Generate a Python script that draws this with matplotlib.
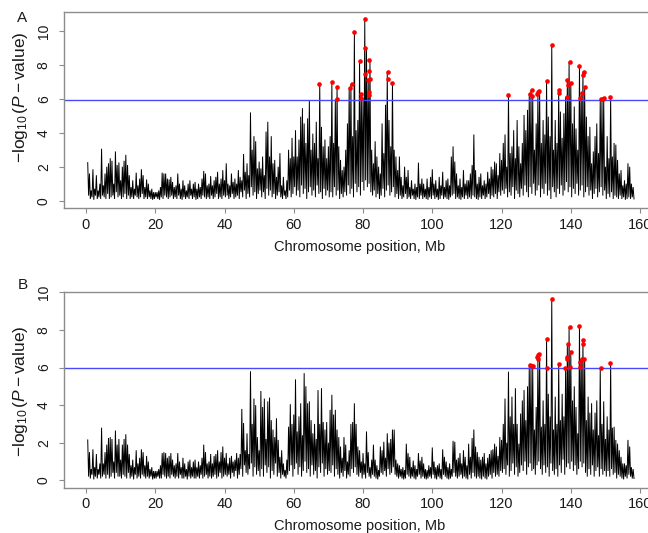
import numpy as np
import matplotlib
matplotlib.use("Agg")
import matplotlib.pyplot as plt

# Scan of -log10(P) along one chromosome, two models (A, B).
# Signal every 0.5 Mb: local top value (peak_*)
# followed by the low point just after it (dip_*).
start_mb = 0.5
step_mb = 0.5

peak_a = [
    2.24, 1.6, 0.6, 1.85, 0.7, 1.5, 0.6, 1.0, 3.06, 0.9, 1.6, 2.0, 2.2, 2.5, 2.35, 1.0, 2.9, 2.1, 2.25, 1.2,
    2.0, 2.35, 2.7, 2.1, 1.5, 0.8, 1.2, 0.7, 1.65, 0.9, 1.3, 1.85, 1.5, 0.8, 1.25, 1.0, 0.6, 0.7, 0.5, 0.5,
    0.5, 0.6, 0.8, 1.65, 1.6, 1.6, 1.3, 1.25, 1.4, 1.1, 0.8, 0.9, 1.6, 1.0, 0.7, 1.2, 0.9, 0.6, 1.0, 1.2,
    0.7, 1.0, 1.1, 0.7, 1.0, 0.8, 1.3, 1.75, 1.6, 0.9, 1.0, 1.45, 0.9, 1.2, 1.4, 1.7, 1.0, 1.3, 1.8, 1.2,
    2.2, 1.0, 0.9, 1.6, 1.1, 1.3, 1.0, 1.8, 1.4, 1.2, 2.75, 1.7, 2.2, 1.5, 5.2, 3.0, 3.8, 3.5, 1.9, 2.3,
    1.9, 2.6, 1.5, 4.07, 4.65, 2.6, 3.8, 2.2, 2.4, 1.4, 2.0, 2.8, 0.9, 1.4, 0.6, 1.2, 3.0, 2.5, 3.7, 2.6,
    4.15, 2.6, 3.6, 4.95, 5.45, 4.55, 3.4, 4.85, 5.9, 3.0, 3.95, 3.4, 4.65, 2.5, 6.88, 4.35, 3.2, 3.6, 2.5, 3.2,
    3.8, 6.98, 3.4, 5.97, 6.72, 3.2, 2.4, 1.8, 2.0, 3.0, 4.55, 6.62, 6.88, 3.8, 9.94, 4.15, 4.75, 8.23, 6.31, 6.03,
    10.71, 8.98, 7.0, 8.29, 3.0, 2.2, 3.5, 2.6, 2.0, 1.6, 4.55, 2.8, 5.65, 7.58, 4.75, 3.2, 6.96, 3.0, 2.6, 1.8,
    2.6, 1.4, 0.9, 2.0, 1.4, 1.8, 0.8, 1.2, 0.7, 1.0, 0.8, 2.24, 1.0, 1.3, 1.0, 0.7, 1.3, 0.8, 1.4, 1.85,
    1.0, 1.2, 0.7, 1.4, 0.9, 1.7, 0.8, 1.2, 1.3, 0.9, 2.6, 3.2, 2.3, 1.6, 0.9, 1.3, 0.8, 1.8, 1.0, 1.2,
    1.2, 1.6, 2.1, 3.9, 1.8, 1.0, 1.4, 1.6, 0.9, 1.2, 1.0, 1.7, 1.3, 2.0, 1.85, 2.3, 2.2, 1.5, 2.8, 2.4,
    3.4, 3.9, 2.0, 6.25, 2.8, 3.2, 4.15, 2.5, 4.75, 3.2, 2.2, 3.4, 5.05, 4.15, 5.35, 6.3, 6.52, 6.19, 3.0, 4.55,
    6.27, 6.4, 3.4, 4.75, 3.9, 7.07, 4.95, 3.8, 9.16, 3.0, 4.75, 3.4, 6.54, 5.25, 3.7, 5.15, 6.12, 7.13, 8.15, 6.95,
    4.55, 5.55, 4.25, 3.0, 7.96, 6.4, 7.6, 6.68, 4.95, 3.8, 4.35, 2.2, 2.9, 3.8, 4.55, 2.8, 5.99, 6.02, 6.05, 2.0,
    3.8, 2.5, 6.13, 2.6, 3.4, 3.3, 2.4, 1.6, 1.8, 0.9, 1.2, 1.0, 2.2, 2.0, 1.0, 0.8,
]
dip_a = [
    0.3, 0.1, 0.2, 0.05, 0.3, 0.1, 0.2, 0.1, 0.3, 0.2, 0.1, 0.4, 0.1, 0.2, 0.3, 0.1, 0.5, 0.2, 0.3, 0.1,
    0.2, 0.4, 0.1, 0.3, 0.1, 0.2, 0.1, 0.3, 0.2, 0.1, 0.2, 0.4, 0.1, 0.2, 0.1, 0.2, 0.1, 0.05, 0.1, 0.2,
    0.1, 0.05, 0.2, 0.1, 0.3, 0.2, 0.1, 0.2, 0.3, 0.1, 0.2, 0.1, 0.3, 0.1, 0.05, 0.2, 0.1, 0.2, 0.1, 0.3,
    0.1, 0.2, 0.05, 0.1, 0.2, 0.1, 0.3, 0.2, 0.1, 0.2, 0.1, 0.3, 0.1, 0.2, 0.4, 0.1, 0.2, 0.1, 0.3, 0.2,
    0.3, 0.1, 0.2, 0.4, 0.1, 0.2, 0.3, 0.1, 0.5, 0.2, 0.6, 0.1, 0.4, 0.2, 0.8, 0.3, 0.5, 0.1, 0.4, 0.6,
    0.2, 0.5, 0.1, 0.7, 0.3, 0.6, 0.2, 0.4, 0.1, 0.3, 0.5, 0.2, 0.1, 0.3, 0.1, 0.2, 0.6, 0.2, 0.4, 0.8,
    0.3, 0.6, 0.2, 0.9, 0.4, 0.7, 0.1, 0.5, 0.8, 0.3, 0.6, 0.2, 0.9, 0.4, 0.5, 0.1, 0.7, 0.3, 0.6, 0.2,
    0.5, 0.2, 0.8, 0.3, 0.6, 0.1, 0.4, 0.2, 0.5, 0.3, 0.9, 0.4, 0.7, 0.2, 1.0, 0.5, 0.8, 0.3, 1.1, 0.6,
    1.2, 0.8, 1.0, 0.5, 0.3, 0.6, 0.2, 0.4, 0.1, 0.3, 0.7, 0.2, 0.6, 0.9, 0.3, 0.5, 0.8, 0.2, 0.4, 0.1,
    0.3, 0.1, 0.2, 0.4, 0.1, 0.2, 0.1, 0.3, 0.1, 0.05, 0.2, 0.1, 0.3, 0.1, 0.2, 0.1, 0.05, 0.2, 0.1, 0.3,
    0.1, 0.2, 0.05, 0.1, 0.3, 0.1, 0.2, 0.1, 0.05, 0.2, 0.3, 0.4, 0.1, 0.2, 0.1, 0.05, 0.2, 0.1, 0.3, 0.1,
    0.2, 0.1, 0.3, 0.2, 0.1, 0.05, 0.2, 0.1, 0.3, 0.1, 0.2, 0.4, 0.1, 0.3, 0.2, 0.4, 0.1, 0.5, 0.3, 0.6,
    0.4, 0.7, 0.2, 0.5, 0.3, 0.8, 0.1, 0.6, 0.4, 0.2, 0.7, 0.3, 0.9, 0.5, 0.2, 0.8, 0.4, 1.0, 0.3, 0.6,
    0.9, 0.2, 0.7, 0.4, 1.0, 0.3, 0.6, 0.1, 0.8, 0.5, 0.2, 0.7, 0.4, 0.9, 0.3, 0.6, 1.1, 0.5, 0.8, 0.2,
    0.7, 0.4, 1.0, 0.3, 0.6, 0.9, 0.2, 0.5, 0.8, 0.3, 0.6, 0.1, 0.4, 0.7, 0.2, 0.5, 0.8, 0.3, 0.6, 0.1,
    0.4, 0.2, 0.5, 0.1, 0.3, 0.2, 0.1, 0.3, 0.1, 0.2, 0.05, 0.1, 0.2, 0.1, 0.2, 0.1,
]
# markers above the significance line (position Mb, -log10 P)
hit_pos_a = [67.3, 71.1, 72.4, 72.4, 76.3, 76.8, 77.4, 79.0, 79.4, 79.4, 80.5, 80.7, 80.7, 81.7, 81.7,
             81.5, 81.9, 81.7, 81.6, 87.1, 87.1, 88.4, 121.9, 128.1, 128.7, 128.9, 130.3, 130.6, 130.9,
             133.1, 134.7, 136.5, 136.5, 138.8, 139.0, 139.1, 139.7, 140.0, 142.4, 142.7, 143.2, 143.5,
             143.7, 144.0, 148.7, 149.2, 149.6, 151.2]
hit_val_a = [6.86, 6.98, 6.72, 5.97, 6.62, 6.88, 9.94, 8.23, 6.31, 6.03, 10.71, 8.98, 7.47, 8.29, 7.62,
             7.1, 7.15, 6.42, 6.21, 7.58, 7.15, 6.96, 6.25, 6.31, 6.52, 6.19, 6.27, 6.4, 6.45,
             7.07, 9.16, 6.54, 6.36, 6.12, 7.13, 6.8, 8.15, 6.95, 7.96, 6.07, 6.36, 7.41,
             7.6, 6.68, 5.99, 6.02, 6.05, 6.13]

peak_b = [
    2.15, 1.5, 0.6, 1.65, 0.7, 1.4, 0.6, 0.9, 2.8, 0.9, 1.5, 1.9, 2.25, 2.3, 2.2, 1.0, 2.65, 1.9, 2.2, 1.1,
    1.9, 2.2, 2.45, 1.9, 1.4, 0.8, 1.1, 0.7, 1.6, 0.9, 1.2, 1.65, 1.5, 0.8, 1.3, 1.0, 0.6, 0.7, 0.5, 0.5,
    0.5, 0.6, 0.8, 1.45, 1.5, 1.45, 1.2, 1.3, 1.45, 1.1, 0.8, 0.9, 1.45, 1.0, 0.7, 1.2, 0.9, 0.6, 1.0, 1.1,
    0.7, 1.0, 1.1, 0.7, 1.0, 0.8, 1.2, 1.9, 1.5, 0.9, 1.0, 1.4, 0.9, 1.3, 1.4, 1.6, 1.0, 1.5, 1.8, 1.2,
    1.45, 0.9, 1.2, 1.3, 1.0, 1.1, 1.45, 1.2, 1.4, 3.8, 3.05, 1.6, 2.5, 1.4, 5.8, 3.0, 4.35, 4.0, 2.3, 1.6,
    4.75, 3.9, 4.35, 2.2, 4.2, 4.4, 3.2, 2.7, 2.3, 3.3, 2.15, 1.25, 1.6, 0.9, 0.55, 1.1, 2.85, 4.05, 3.0, 3.5,
    5.37, 2.6, 3.4, 4.1, 2.4, 5.7, 5.0, 4.1, 4.2, 3.2, 2.5, 3.0, 2.2, 4.8, 3.0, 4.9, 3.1, 2.7, 3.1, 2.0,
    3.75, 4.55, 3.5, 3.75, 2.7, 2.3, 1.8, 1.2, 2.3, 1.9, 1.0, 1.6, 3.0, 3.1, 4.1, 3.0, 1.8, 1.6, 1.0, 1.45,
    0.9, 2.6, 1.5, 0.7, 1.1, 1.9, 1.1, 0.8, 0.55, 1.8, 1.6, 2.05, 1.2, 2.5, 2.0, 2.2, 2.7, 2.7, 1.1, 0.9,
    0.8, 0.6, 0.7, 0.55, 1.95, 1.45, 1.25, 0.7, 1.05, 0.8, 0.6, 1.45, 1.05, 1.25, 0.9, 0.6, 0.55, 0.8, 0.7, 1.75,
    1.0, 0.7, 0.8, 0.9, 0.6, 1.65, 1.25, 1.0, 0.7, 0.9, 0.6, 2.1, 2.05, 1.1, 1.2, 1.45, 0.9, 1.6, 1.25, 0.8,
    1.95, 1.25, 2.25, 2.7, 1.8, 1.5, 1.25, 1.1, 1.25, 1.45, 0.9, 1.2, 1.4, 1.6, 1.65, 1.95, 1.8, 1.3, 2.3, 2.15,
    3.0, 4.35, 2.0, 5.78, 3.4, 4.45, 3.0, 4.9, 3.0, 1.95, 3.55, 4.25, 4.8, 3.2, 5.0, 6.12, 6.1, 6.08, 2.7, 3.9,
    6.54, 6.72, 2.85, 4.25, 3.0, 7.5, 4.6, 3.4, 9.64, 2.7, 4.45, 3.0, 6.2, 3.2, 4.6, 3.4, 5.98, 7.23, 8.14, 6.81,
    4.25, 5.0, 3.9, 2.5, 8.23, 6.47, 7.46, 6.47, 3.2, 4.45, 3.6, 4.1, 2.7, 3.6, 4.25, 2.4, 5.98, 3.0, 4.2, 2.2,
    3.4, 2.7, 6.26, 2.8, 2.85, 2.15, 1.95, 1.6, 1.25, 0.9, 0.9, 0.8, 2.15, 1.8, 0.7, 0.6,
]
dip_b = [
    0.2, 0.1, 0.3, 0.05, 0.2, 0.1, 0.3, 0.1, 0.2, 0.3, 0.1, 0.3, 0.1, 0.2, 0.4, 0.1, 0.4, 0.2, 0.2, 0.1,
    0.3, 0.2, 0.1, 0.4, 0.1, 0.2, 0.05, 0.3, 0.1, 0.2, 0.1, 0.3, 0.2, 0.1, 0.2, 0.1, 0.2, 0.05, 0.1, 0.1,
    0.2, 0.1, 0.1, 0.3, 0.2, 0.1, 0.2, 0.1, 0.3, 0.2, 0.1, 0.2, 0.1, 0.3, 0.1, 0.1, 0.2, 0.05, 0.2, 0.1,
    0.2, 0.1, 0.1, 0.2, 0.1, 0.3, 0.1, 0.2, 0.3, 0.1, 0.2, 0.1, 0.2, 0.3, 0.1, 0.2, 0.4, 0.1, 0.2, 0.3,
    0.2, 0.3, 0.1, 0.4, 0.2, 0.5, 0.1, 0.3, 0.6, 0.2, 0.8, 0.4, 0.3, 0.6, 0.9, 0.2, 0.7, 0.3, 0.5, 0.2,
    0.6, 0.2, 0.8, 0.4, 0.7, 0.1, 0.5, 0.3, 0.9, 0.2, 0.4, 0.1, 0.3, 0.2, 0.1, 0.3, 0.5, 0.8, 0.2, 0.6,
    0.9, 0.3, 0.7, 0.2, 0.5, 1.0, 0.4, 0.6, 0.2, 0.8, 0.3, 0.5, 0.1, 0.7, 0.4, 0.9, 0.2, 0.6, 0.3, 0.5,
    0.4, 0.8, 0.2, 0.6, 0.3, 0.1, 0.4, 0.2, 0.5, 0.1, 0.3, 0.2, 0.6, 0.4, 0.7, 0.3, 0.2, 0.4, 0.1, 0.3,
    0.1, 0.4, 0.2, 0.1, 0.3, 0.2, 0.1, 0.05, 0.2, 0.4, 0.3, 0.5, 0.2, 0.6, 0.3, 0.4, 0.7, 0.3, 0.2, 0.1,
    0.2, 0.1, 0.05, 0.1, 0.3, 0.2, 0.1, 0.2, 0.1, 0.05, 0.2, 0.3, 0.1, 0.2, 0.1, 0.05, 0.1, 0.2, 0.1, 0.3,
    0.1, 0.05, 0.2, 0.1, 0.05, 0.3, 0.2, 0.1, 0.05, 0.1, 0.2, 0.4, 0.2, 0.1, 0.2, 0.3, 0.1, 0.2, 0.1, 0.05,
    0.3, 0.1, 0.4, 0.2, 0.1, 0.2, 0.1, 0.05, 0.2, 0.1, 0.05, 0.2, 0.3, 0.1, 0.4, 0.2, 0.3, 0.2, 0.5, 0.4,
    0.6, 0.3, 0.8, 0.2, 0.5, 0.9, 0.3, 0.7, 0.2, 0.4, 0.8, 0.5, 1.0, 0.3, 0.7, 0.9, 0.5, 0.6, 0.3, 0.8,
    1.0, 0.6, 0.3, 0.8, 0.4, 0.7, 0.2, 0.9, 0.5, 0.3, 0.6, 0.2, 0.8, 0.4, 1.1, 0.3, 0.7, 0.9, 0.6, 1.0,
    0.5, 0.8, 0.3, 0.6, 1.0, 0.7, 0.9, 0.4, 0.2, 0.6, 0.3, 0.8, 0.2, 0.5, 0.7, 0.2, 0.6, 0.3, 0.5, 0.2,
    0.5, 0.2, 0.6, 0.3, 0.4, 0.1, 0.3, 0.2, 0.1, 0.05, 0.2, 0.1, 0.3, 0.2, 0.1, 0.1,
]
hit_pos_b = [128.1, 128.7, 129.0, 130.3, 130.5, 130.8, 130.6, 133.0, 133.0, 134.6, 136.5, 138.4, 138.8,
             139.0, 139.3, 139.7, 140.0, 139.9, 142.3, 142.6, 142.7, 143.1, 143.5, 143.6, 143.9, 148.7, 151.2]
hit_val_b = [6.12, 6.1, 6.08, 6.54, 6.66, 6.72, 6.47, 7.5, 6.0, 9.64, 6.2, 5.98, 6.47,
             6.58, 7.23, 8.14, 6.81, 6.05, 8.23, 6.3, 6.05, 6.47, 7.23, 7.46, 6.47, 5.98, 6.26]

threshold = 5.95
xticks = [0, 20, 40, 60, 80, 100, 120, 140, 160]
yticks = [0, 2, 4, 6, 8, 10]

W, H = 648, 533
FONT = "Liberation Sans"
plt.rcParams["font.family"] = FONT
plt.rcParams["mathtext.fontset"] = "custom"
plt.rcParams["mathtext.rm"] = FONT
plt.rcParams["mathtext.it"] = FONT + ":italic"

fig = plt.figure(figsize=(W / 100, H / 100), dpi=100)


def rect(x0, y0, x1, y1):
    # pixel box (top-left origin) -> figure fraction
    return [x0 / W, 1 - y1 / H, (x1 - x0) / W, (y1 - y0) / H]


def panel(box, peaks, dips, hp, hv, ylim, letter, letter_xy, ylab_y):
    ax = fig.add_axes(rect(*box))
    n = len(peaks)
    xp = start_mb + step_mb * np.arange(n)
    xs = np.empty(2 * n)
    ys = np.empty(2 * n)
    xs[0::2], xs[1::2] = xp, xp + step_mb / 2
    ys[0::2], ys[1::2] = peaks, dips
    ax.plot(xs, ys, color="black", lw=0.7, solid_joinstyle="miter")
    ax.axhline(threshold, color="#4848ff", lw=1.0)
    ax.scatter(hp, hv, s=11, color="#ff0000", linewidths=0, zorder=3)

    ax.set_xlim(-6.35, 164.6)
    ax.set_ylim(*ylim)
    ax.set_xticks(xticks)
    ax.set_yticks(yticks)
    for s in ax.spines.values():
        s.set_color("#8c8c8c")
        s.set_linewidth(1.0)
    ax.tick_params(colors="#8c8c8c", length=3.5, width=0.8, labelcolor="#1a1a1a")
    ax.tick_params(axis="x", labelsize=10.5, pad=3.5)
    ax.tick_params(axis="y", labelsize=10, pad=6)
    for t in ax.get_yticklabels():
        t.set_rotation(90)
        t.set_va("center")

    x_lab_y = box[3] + 38.5
    fig.text(0.5 * (box[0] + box[2]) / W, 1 - x_lab_y / H, "Chromosome position, Mb",
             ha="center", va="center", fontsize=10.5, color="#1a1a1a")
    fig.text(20.5 / W, 1 - ylab_y / H, r"$-\log_{10}(\mathit{P}-\mathrm{value})$",
             rotation=90, ha="center", va="center", fontsize=12.5, color="#1a1a1a")
    fig.text(letter_xy[0] / W, 1 - letter_xy[1] / H, letter,
             ha="center", va="center", fontsize=11, color="#1a1a1a")
    return ax


panel((64, 12.3, 656, 208.3), peak_a, dip_a, hit_pos_a, hit_val_a, (-0.45, 11.1), "A", (22.5, 18), 97.5)
panel((64, 292.3, 656, 487.7), peak_b, dip_b, hit_pos_b, hit_val_b, (-0.39, 9.98), "B", (22.5, 285), 391.5)

fig.savefig("out.png", dpi=100)
